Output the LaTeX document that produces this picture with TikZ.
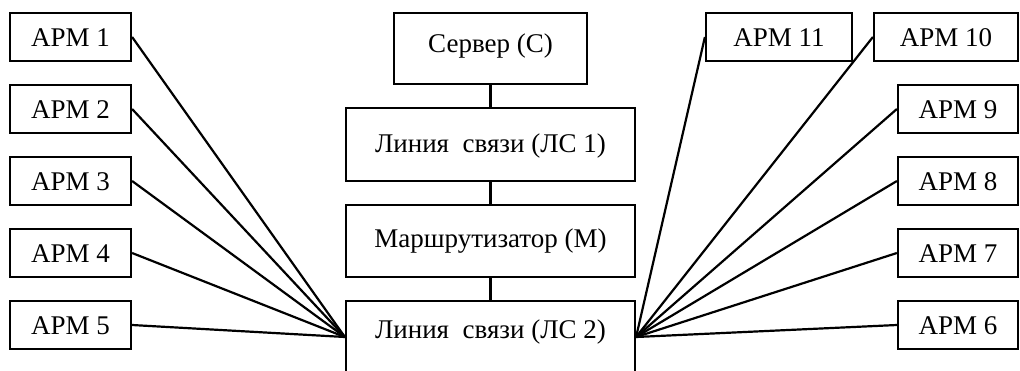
\documentclass[tikz,border=0pt]{standalone}
\usepackage{fontspec}
\setmainfont{Liberation Serif}
\usetikzlibrary{calc}
\begin{document}
\begin{tikzpicture}[x=1pt,y=-1pt,
  box/.style={draw, line width=2.2pt, inner sep=0pt, minimum height=48pt},
  txt/.style={anchor=base, inner sep=0pt, font=\fontsize{27}{32}\selectfont},
  link/.style={line width=2.2pt}]
\clip (0,0) rectangle (1020,370);
\fill[white] (0,0) rectangle (1020,370);

% central chain
\node[box, minimum width=193pt, minimum height=71pt] (srv) at (490.5,48.5) {};
\node[box, minimum width=289pt, minimum height=73pt] (ls1) at (490.5,144.5) {};
\node[box, minimum width=289pt, minimum height=72pt] (rt)  at (490.5,241) {};
\node[box, minimum width=289pt, minimum height=72pt] (ls2) at (490.5,337) {};

\node[txt] (tsrv) at (490.5,52) {Сервер (С)};
\node[txt] (tls1) at (490.5,152) {Линия\ \ связи (ЛС 1)};
\node[txt] (trt)  at (490.5,247) {Маршрутизатор (М)};
\node[txt] (tls2) at (490.5,338) {Линия\ \ связи (ЛС 2)};

\draw[link] (srv.south) -- (ls1.north);
\draw[link] (ls1.south) -- (rt.north);
\draw[link] (rt.south) -- (ls2.north);

% workstations on the left
\foreach \i/\y in {1/37,2/109,3/181,4/253,5/325}{
  \node[box, minimum width=121pt] (a\i) at (70.5,\y) {};
  \node[txt] (ta\i) at (70.5,\y+9) {АРМ \i};
  \draw[link] (a\i.east) -- (ls2.west);
}

% workstations on the right
\foreach \i/\y in {9/109,8/181,7/253,6/325}{
  \node[box, minimum width=120pt] (a\i) at (958,\y) {};
  \node[txt] (ta\i) at (958,\y+9) {АРМ \i};
  \draw[link] (ls2.east) -- (a\i.west);
}
\node[box, minimum width=146pt] (a11) at (779,37) {};
\node[txt] (ta11) at (779,46) {АРМ 11};
\node[box, minimum width=144pt] (a10) at (946,37) {};
\node[txt] (ta10) at (946,46) {АРМ 10};
\draw[link] (ls2.east) -- (a11.west);
\draw[link] (ls2.east) -- (a10.west);
\end{tikzpicture}
\end{document}
